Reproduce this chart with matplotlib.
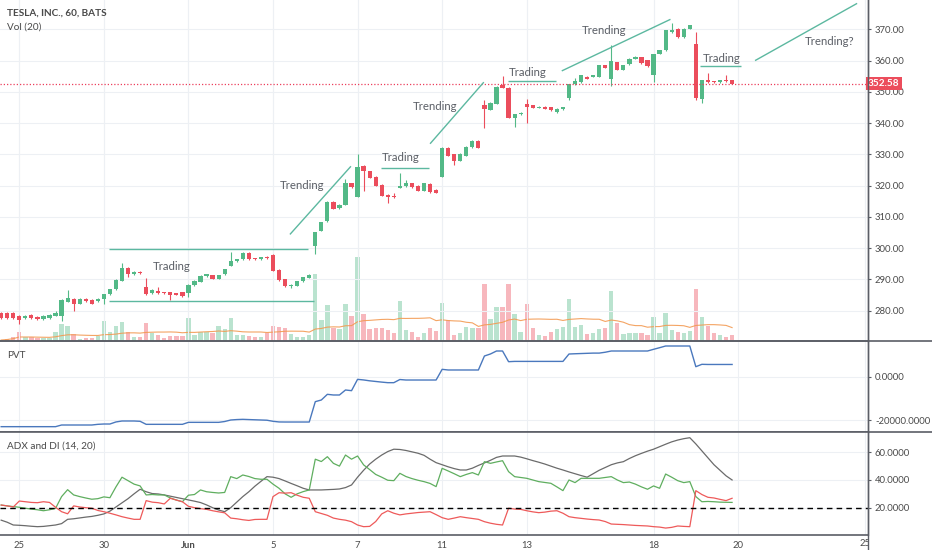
import matplotlib
matplotlib.use('Agg')
import matplotlib.pyplot as plt
import numpy as np
import pandas as pd
from matplotlib.transforms import blended_transform_factory, Bbox
from matplotlib.lines import Line2D

plt.rcParams['font.family'] = ['Lato', 'DejaVu Sans']

# ---------------- data (hourly bars, index 0 = May 24 late bars) ----------------
opens = [279.4, 279.4, 279.4, 278.4, 277.7, 278.7, 278.1, 277.3, 277.7, 278.4,
         278.4, 282.9, 283.8, 282.2, 283.8, 283.4, 283.1, 283.8, 285.2, 286.8,
         289.6, 293.7, 291.6, 292.5, 287.7, 285.6, 286.2, 285.9, 285.9, 285.6,
         285.9, 285.6, 288.1, 289.3, 291.0, 291.3, 290.2, 291.6, 294.4, 295.8,
         296.5, 298.6, 296.8, 296.5, 297.3, 297.9, 293.0, 290.0, 287.8, 288.0,
         289.4, 290.6, 300.8, 305.6, 308.6, 314.9, 312.8, 313.9, 320.8, 316.5,
         326.4, 324.6, 322.9, 320.3, 317.1, 316.5, 319.3, 319.8, 320.8, 320.0,
         318.4, 320.6, 318.7, 322.9, 332.1, 330.0, 328.0, 329.6, 332.3, 334.3,
         345.7, 344.3, 346.2, 352.1, 351.3, 341.7, 342.8, 346.0, 345.7, 344.9,
         345.3, 345.1, 343.5, 344.4, 348.1, 352.4, 353.1, 354.9, 354.8, 354.9,
         358.5, 354.0, 359.5, 357.1, 358.8, 360.6, 361.1, 360.1, 355.3, 362.2,
         363.3, 369.1, 370.2, 367.5, 370.2, 365.4, 347.8, 353.7, 353.3, 353.1,
         353.7, 353.7]
highs = [279.6, 279.6, 279.6, 278.6, 278.7, 279.0, 278.3, 278.6, 279.0, 280.0,
         283.6, 286.6, 284.0, 284.0, 284.0, 283.6, 284.1, 285.4, 287.1, 290.0,
         295.2, 293.9, 292.8, 292.7, 290.5, 286.8, 287.5, 286.1, 286.1, 285.8,
         286.1, 288.5, 289.7, 291.3, 291.8, 291.5, 291.5, 293.4, 298.9, 296.7,
         298.9, 298.8, 297.0, 297.3, 297.5, 298.1, 293.2, 290.2, 288.4, 289.6,
         290.9, 291.6, 305.3, 308.5, 315.1, 315.1, 314.0, 322.0, 321.0, 330.2,
         326.6, 324.8, 323.1, 320.5, 317.3, 317.5, 324.1, 321.9, 321.0, 320.2,
         321.0, 320.8, 318.9, 332.3, 332.3, 330.2, 330.4, 332.7, 334.5, 334.5,
         347.3, 346.7, 351.9, 355.0, 351.5, 343.0, 343.5, 347.6, 345.9, 345.4,
         345.5, 345.3, 344.8, 345.3, 352.6, 354.5, 355.5, 355.1, 355.5, 358.7,
         358.7, 364.9, 359.7, 358.7, 360.8, 361.4, 361.3, 360.3, 362.2, 363.5,
         369.9, 372.0, 370.4, 370.4, 371.5, 369.0, 353.9, 356.1, 353.5, 353.9,
         355.5, 353.9]
lows = [277.4, 277.5, 277.5, 275.9, 277.4, 277.5, 277.0, 277.1, 277.5, 278.2,
        276.8, 282.7, 280.0, 282.0, 282.9, 282.0, 282.9, 282.1, 285.0, 286.6,
        289.4, 290.7, 291.4, 291.9, 285.1, 285.4, 285.4, 285.4, 283.4, 284.9,
        284.5, 284.3, 287.9, 289.1, 290.8, 290.0, 290.0, 291.4, 294.2, 295.6,
        296.3, 296.3, 296.3, 296.3, 296.6, 292.6, 289.6, 287.5, 287.2, 287.8,
        289.2, 290.4, 298.2, 305.4, 308.4, 312.4, 312.6, 313.7, 319.3, 316.3,
        318.4, 322.3, 319.8, 316.6, 314.5, 316.1, 319.1, 319.6, 319.3, 318.2,
        318.2, 317.7, 317.5, 322.7, 329.4, 326.5, 327.8, 329.4, 332.1, 331.9,
        338.5, 344.1, 346.0, 351.1, 341.5, 338.7, 342.6, 340.0, 344.7, 344.7,
        344.4, 343.9, 343.3, 344.2, 347.3, 352.2, 352.9, 354.0, 354.6, 354.7,
        357.5, 352.0, 356.9, 356.9, 358.6, 360.4, 359.0, 358.0, 353.0, 362.0,
        363.1, 368.9, 367.3, 367.3, 370.0, 347.3, 346.5, 352.9, 352.9, 352.9,
        353.2, 352.4]
closes = [277.7, 277.8, 277.8, 277.1, 278.4, 277.7, 277.3, 278.4, 278.7, 279.4,
          283.4, 284.1, 282.2, 283.8, 283.1, 282.3, 283.9, 285.2, 286.9, 289.8,
          293.7, 291.8, 292.5, 292.1, 285.3, 286.6, 285.6, 285.6, 284.9, 285.1,
          284.7, 288.3, 289.5, 291.1, 291.6, 290.2, 291.3, 293.2, 295.8, 296.5,
          298.6, 296.5, 296.5, 297.1, 296.8, 292.8, 289.8, 287.8, 288.2, 289.4,
          290.7, 291.4, 305.1, 308.3, 314.9, 312.6, 313.8, 320.8, 319.5, 325.9,
          324.6, 322.5, 320.0, 316.8, 316.3, 316.3, 320.0, 320.8, 319.5, 318.4,
          320.8, 317.9, 317.7, 332.1, 329.6, 327.8, 330.2, 332.5, 334.3, 332.1,
          344.6, 346.5, 351.7, 351.3, 341.7, 342.8, 343.3, 345.3, 344.9, 345.2,
          344.6, 344.1, 344.6, 345.1, 352.4, 353.4, 355.3, 354.2, 355.3, 358.5,
          357.7, 359.8, 357.1, 358.5, 360.6, 361.2, 359.2, 358.2, 362.0, 363.3,
          369.7, 369.9, 367.5, 370.2, 371.3, 348.1, 353.7, 353.1, 353.1, 353.7,
          353.4, 352.58]
volume_k = [10, 20, 40, 90, 40, 40, 30, 30, 30, 90,
            170, 150, 70, 20, 30, 30, 50, 200, 90, 150,
            190, 90, 40, 40, 180, 80, 60, 30, 50, 50,
            50, 230, 60, 90, 90, 80, 150, 120, 230, 60,
            60, 50, 40, 40, 80, 150, 140, 130, 70, 40,
            40, 60, 670, 210, 360, 130, 120, 370, 250, 840,
            270, 120, 130, 130, 110, 80, 400, 110, 90, 40,
            80, 130, 100, 380, 210, 60, 80, 140, 130, 130,
            570, 220, 340, 340, 570, 270, 90, 370, 130, 60,
            50, 90, 120, 140, 420, 140, 160, 70, 80, 120,
            130, 500, 180, 70, 80, 80, 80, 60, 240, 80,
            280, 110, 90, 80, 100, 520, 240, 150, 80, 60,
            40, 60]
pvt = [-23080, -23080, -23080, -23080, -23080, -23080, -23080, -23080, -23080, -23080,
       -22310, -22310, -22310, -22310, -22310, -22310, -22000, -21850, -21850, -20900,
       -20460, -20460, -20460, -20600, -22000, -22000, -22000, -22000, -22000, -22000,
       -22000, -21080, -21080, -21080, -21080, -21080, -21080, -20700, -20000, -19800,
       -19690, -19800, -19900, -20000, -20100, -20600, -20900, -20930, -20930, -20930,
       -20930, -20930, -11530, -10760, -8140, -8450, -8450, -6140, -6450, -1220,
       -1500, -1900, -2200, -2500, -2760, -2760, -1300, -1530, -1530, -1530,
       -1530, -1530, -1530, 3400, 3100, 3100, 3100, 3100, 3100, 3100,
       9560, 10500, 11870, 11870, 6930, 7070, 7070, 7070, 7070, 7070,
       7070, 7070, 7070, 7070, 10480, 10600, 10700, 10800, 10900, 10900,
       11300, 11870, 11870, 11870, 11870, 11870, 11870, 11870, 12650, 13400,
       14180, 14180, 14180, 14180, 14180, 4620, 5720, 5650, 5650, 5650,
       5650, 5650]
adx = [11.0, 9.5, 7.5, 7.3, 7.0, 6.6, 6.3, 6.5, 7.0, 7.5,
       8.5, 11.6, 12.0, 12.6, 13.2, 13.7, 14.5, 15.5, 17.5, 20.5,
       23.5, 26.5, 30.0, 33.3, 31.5, 30.2, 29.9, 29.2, 28.3, 27.4,
       26.5, 25.6, 24.7, 23.7, 22.0, 20.0, 18.3, 17.1, 20.0, 24.0,
       28.0, 31.5, 35.5, 39.0, 42.4, 42.0, 41.0, 39.3, 37.5, 35.8,
       34.0, 32.8, 32.8, 32.8, 33.0, 33.2, 33.5, 34.5, 36.4, 42.0,
       47.0, 51.5, 55.0, 58.0, 60.5, 62.2, 62.0, 61.3, 60.3, 59.3,
       57.8, 55.0, 52.5, 51.0, 49.5, 48.2, 47.2, 47.2, 48.5, 50.5,
       52.3, 54.2, 56.3, 57.3, 57.3, 57.3, 56.5, 55.3, 54.0, 52.8,
       51.5, 50.0, 48.5, 47.2, 45.8, 44.5, 43.2, 42.0, 44.5, 47.0,
       49.0, 51.0, 52.3, 53.2, 55.5, 57.5, 59.2, 60.8, 62.2, 64.0,
       65.8, 67.5, 68.8, 69.8, 70.5, 66.0, 61.0, 56.0, 51.0, 47.0,
       43.0, 40.0]
plus_di = [21.9, 21.3, 20.8, 20.3, 19.6, 19.0, 18.5, 17.8, 18.5, 19.5,
           28.0, 33.0, 29.2, 28.0, 27.0, 26.1, 26.5, 27.8, 27.2, 35.0,
           42.0, 39.5, 37.0, 35.7, 29.2, 29.5, 29.2, 29.2, 27.0, 25.5,
           24.3, 29.0, 29.5, 32.8, 31.5, 31.0, 30.6, 31.0, 42.4, 41.0,
           43.6, 42.5, 41.0, 40.5, 40.5, 37.0, 34.0, 30.0, 27.5, 30.0,
           31.6, 32.8, 55.0, 53.3, 56.8, 52.0, 50.0, 58.0, 55.0, 57.3,
           50.9, 47.5, 44.0, 42.0, 39.8, 39.5, 44.8, 42.5, 41.0, 39.8,
           38.8, 37.5, 35.2, 48.4, 46.5, 44.5, 42.4, 44.0, 45.3, 43.6,
           53.2, 52.0, 53.0, 53.9, 46.0, 42.4, 41.8, 41.2, 40.0, 38.8,
           38.2, 37.6, 35.0, 32.3, 40.0, 38.1, 41.2, 41.2, 41.2, 41.2,
           41.8, 42.4, 40.0, 38.1, 38.5, 37.0, 35.0, 33.3, 35.7, 34.0,
           44.3, 42.0, 39.5, 38.1, 38.8, 28.0, 24.3, 24.5, 24.3, 24.0,
           23.9, 23.8]
minus_di = [21.9, 21.3, 20.5, 24.8, 24.3, 23.8, 23.6, 24.3, 23.8, 20.3,
            17.1, 15.6, 21.3, 20.5, 20.0, 19.6, 18.0, 17.1, 16.0, 14.8,
            13.5, 12.5, 11.6, 11.6, 25.1, 24.0, 23.6, 22.7, 26.8, 25.5,
            24.3, 21.0, 20.0, 19.3, 18.8, 17.8, 17.0, 16.3, 12.5, 12.0,
            11.3, 10.8, 11.5, 11.6, 11.6, 28.0, 30.8, 30.5, 30.8, 29.0,
            27.5, 26.8, 17.1, 15.8, 14.5, 12.5, 11.6, 11.0, 9.9, 7.5,
            6.3, 6.5, 10.0, 15.5, 17.8, 16.0, 14.8, 15.5, 16.0, 16.5,
            16.8, 17.1, 15.0, 12.8, 11.6, 12.5, 13.5, 12.8, 12.2, 11.6,
            9.9, 8.8, 8.0, 7.5, 19.6, 19.0, 18.8, 17.8, 17.0, 16.4,
            16.8, 17.5, 17.8, 16.0, 13.5, 12.8, 12.3, 11.8, 11.4, 11.1,
            10.0, 8.2, 8.0, 7.8, 7.5, 7.2, 7.0, 6.8, 6.3, 6.0,
            5.3, 5.8, 6.8, 6.5, 6.3, 32.3, 29.5, 27.5, 27.0, 26.0,
            25.1, 26.8]

date_tick_bars = [3, 17, 31, 45, 59, 73, 87, 108, 122]
date_tick_labels = ['25', '30', 'Jun', '5', '7', '11', '13', '18', '20']
edge_tick_bar = 143
edge_tick_label = '25'
price_ticks = [280, 290, 300, 310, 320, 330, 340, 350, 360, 370]
pvt_ticks = [0, -20000]
adx_ticks = [20, 40, 60]
last_price = 352.58

# drawing annotations: (label, text_x, text_y, [line segments]) in bar/price units
annotations = [
    ('Trading', 28.3, 294.3, [(17.85, 299.6, 50.8, 299.6), (17.85, 283.1, 51.8, 283.1)]),
    ('Trending', 49.8, 320.2, [(47.8, 304.4, 57.9, 326.2)]),
    ('Trading', 66.2, 329.0, [(62.9, 325.8, 70.8, 325.8)]),
    ('Trending', 71.8, 345.4, [(71.0, 333.4, 79.9, 353.1)]),
    ('Trading', 87.1, 356.3, [(83.9, 353.4, 91.9, 353.4)]),
    ('Trending', 99.8, 369.5, [(92.8, 356.7, 110.8, 373.2)]),
    ('Trading', 119.2, 360.6, [(115.7, 358.4, 122.5, 358.4)]),
    ('Trending?', 137.1, 366.0, [(124.8, 360.0, 141.7, 378.3)]),
]

# ---------------- styling ----------------
UP = '#53b987'
DN = '#eb4d5c'
GRID = '#edf0f4'
AXC = '#5b5e66'
TXT = '#4a4a4a'
ANN = '#5cb8a0'
W, H = 932, 550
XR = 868

fig = plt.figure(figsize=(W / 100, H / 100), dpi=100)
fig.patch.set_facecolor('white')


def rect(top, bottom):
    return [0, 1 - bottom / H, XR / W, (bottom - top) / H]


ax_vol = fig.add_axes(rect(0, 341))
ax = fig.add_axes(rect(0, 341), sharex=ax_vol)
ax_pvt = fig.add_axes(rect(341, 432.3), sharex=ax_vol)
ax_adx = fig.add_axes(rect(432.3, 535), sharex=ax_vol)
ax_vol.set_zorder(0)
ax.set_zorder(1)
ax.patch.set_visible(False)

n = len(closes)
idx = np.arange(n)
o = np.array(opens); c = np.array(closes)
hi = np.array(highs); lo = np.array(lows)
up = c >= o
cols = np.where(up, UP, DN)

# volume
ax_vol.bar(idx, volume_k, width=0.72, color=cols, alpha=0.4, linewidth=0)
vol_ma = pd.Series(volume_k).rolling(20, min_periods=1).mean()
ax_vol.plot(idx, vol_ma, color='#f39a52', lw=0.8, alpha=0.9)
ax_vol.set_ylim(0, 3410)
ax_vol.set_yticks([])
for s in ax_vol.spines.values():
    s.set_visible(False)
ax_vol.tick_params(axis='x', length=0, labelbottom=False)
for t in date_tick_bars + [edge_tick_bar]:
    ax_vol.axvline(t, color=GRID, lw=0.8, zorder=0)

# candles
ax.vlines(idx, lo, hi, colors=cols, lw=0.8, zorder=2)
body_bottom = np.minimum(o, c)
body_h = np.maximum(np.abs(c - o), 0.3)
ax.bar(idx, body_h, bottom=body_bottom, width=0.7, color=cols, linewidth=0, zorder=3)
ax.set_ylim(270.32, 379.38)
ax.set_xlim(-0.195, 143.5)
ax.set_yticks(price_ticks)
ax.set_yticklabels([f'{p:.2f}' for p in price_ticks])
ax.yaxis.tick_right()
ax.grid(axis='y', color=GRID, lw=0.8)
ax.set_axisbelow(True)
ax.axhline(last_price, color='#ec3f5c', lw=0.9, ls=(0, (1, 1.6)), zorder=4)

# annotations
for label, tx, ty, segs in annotations:
    for (x0, y0, x1, y1) in segs:
        ax.plot([x0, x1], [y0, y1], color=ANN, lw=1.0, zorder=5, solid_capstyle='butt')
    ax.text(tx, ty, label, ha='center', va='center', fontsize=8.2, color='#5b5f66', zorder=6)

trans = blended_transform_factory(ax.transAxes, ax.transData)
ax.text(1.0, last_price, f'{last_price:.2f}', transform=trans, ha='left', va='center',
        color='white', fontsize=7.2, fontweight='bold', zorder=20, clip_on=False,
        bbox=dict(boxstyle='square,pad=0.22', fc='#ec4d5c', ec='none'))

# PVT
ax_pvt.plot(idx, pvt, color='#4a78bd', lw=1.0)
ax_pvt.set_ylim(-25680, 16490)
ax_pvt.set_yticks(pvt_ticks)
ax_pvt.set_yticklabels([f'{v:.4f}' for v in pvt_ticks])
ax_pvt.yaxis.tick_right()
ax_pvt.grid(axis='y', color=GRID, lw=0.8)

# ADX
ax_adx.plot(idx, adx, color='#6b6b6b', lw=0.9)
ax_adx.plot(idx, plus_di, color='#5fae5f', lw=0.9)
ax_adx.plot(idx, minus_di, color='#ee5a5a', lw=0.9)
ax_adx.axhline(20, color='black', lw=1.0, ls=(0, (4, 3)))
ax_adx.set_ylim(0.29, 74.4)
ax_adx.set_yticks(adx_ticks)
ax_adx.set_yticklabels([f'{v:.4f}' for v in adx_ticks])
ax_adx.yaxis.tick_right()
ax_adx.grid(axis='y', color=GRID, lw=0.8)

for a in (ax, ax_pvt, ax_adx):
    for t in date_tick_bars + [edge_tick_bar]:
        a.axvline(t, color=GRID, lw=0.8, zorder=0)
    a.spines['top'].set_visible(False)
    a.spines['left'].set_visible(False)
    a.spines['right'].set_color(AXC)
    a.spines['right'].set_linewidth(1.0)
    a.spines['bottom'].set_color(AXC)
    a.spines['bottom'].set_linewidth(1.2)
    a.tick_params(axis='y', right=True, left=False, direction='out', length=2.5,
                  width=0.8, color=AXC, labelsize=6.8, labelcolor=TXT, pad=2.5)
    a.tick_params(axis='x', length=0)

ax.tick_params(axis='x', labelbottom=False)
ax_pvt.tick_params(axis='x', labelbottom=False)
ax_adx.set_xticks(date_tick_bars)
ax_adx.set_xticklabels(date_tick_labels)
ax_adx.tick_params(axis='x', labelsize=6.8, labelcolor=TXT, pad=4)
for lbl in ax_adx.get_xticklabels():
    if lbl.get_text() == 'Jun':
        lbl.set_fontweight('bold')
ax_adx.set_xlim(-0.195, 143.5)

# date label at the price-axis edge, cut off by the axis column
xtr = blended_transform_factory(ax_adx.transData, fig.transFigure)
edge_txt = ax_adx.text(edge_tick_bar, 1 - 544 / H, edge_tick_label, transform=xtr,
                       ha='center', va='center', fontsize=6.8, color=TXT)
edge_txt.set_clip_on(True)
edge_txt.set_clip_box(Bbox([[0, 0], [XR, H]]))

# separators & right axis line
fig.add_artist(Line2D([0, 1], [1 - 341 / H, 1 - 341 / H], color=AXC, lw=1.2))
fig.add_artist(Line2D([0, 1], [1 - 432.3 / H, 1 - 432.3 / H], color=AXC, lw=1.2))
fig.add_artist(Line2D([XR / W, XR / W], [0, 1], color=AXC, lw=1.0))


def ftext(x, y, s, **kw):
    fig.text(x / W, 1 - y / H, s, va='center', ha='left', color=TXT, **kw)


ftext(7, 13.3, 'TESLA, INC., 60, BATS', fontsize=7.2, fontweight='bold')
ftext(7, 26.7, 'Vol (20)', fontsize=7.2)
ftext(7, 355, 'PVT', fontsize=7.2)
ftext(7, 445.7, 'ADX and DI (14, 20)', fontsize=7.2)

fig.savefig('out.png', dpi=100, facecolor='white')
